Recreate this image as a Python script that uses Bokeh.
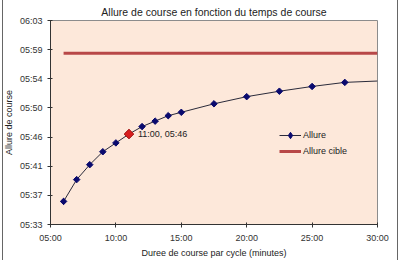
import numpy as np
from bokeh.plotting import figure
from bokeh.models import FixedTicker, Label, Legend, InlineStyleSheet
from bokeh.embed import file_html
from bokeh.resources import INLINE

# Durée de course par cycle (minutes) and allure (seconds per km)
duree = [6, 7, 8, 9, 10, 11, 12, 13, 14, 15, 17.5, 20, 22.5, 25, 27.5, 30]
allure = [336.4, 339.6, 341.8, 343.7, 345.0, 346.3, 347.4, 348.2, 349.0, 349.5,
          350.75, 351.8, 352.6, 353.3, 353.9, 354.1]
marker_count = 15  # points shown with markers (the last point only carries the line)

cible_x = [6, 30]
cible_y = [358.2, 358.2]

point_x = [11]
point_y = [346.3]
point_label = "11:00, 05:46"

x_ticks = [5, 10, 15, 20, 25, 30]
x_labels = ["05:00", "10:00", "15:00", "20:00", "25:00", "30:00"]
y_min, y_max = 333, 363
y_labels = ["05:33", "05:37", "05:41", "05:46", "05:50", "05:54", "05:59", "06:03"]
y_ticks = [y_min + k * (y_max - y_min) / 7 for k in range(8)]

FONT = "Liberation Sans"

border_css = InlineStyleSheet(css="""
:host::after { content: ""; position: absolute; left: 2px; right: 2px; top: -2px; bottom: -2px;
  border-left: 1px solid #666; border-right: 1px solid #666; pointer-events: none; }
""")

p = figure(width=400, height=260, output_backend="svg", toolbar_location=None,
           x_range=(5, 30), y_range=(y_min, y_max),
           min_border_left=45, min_border_right=23, min_border_top=19, min_border_bottom=32,
           stylesheets=[border_css])

p.title.text = "Allure de course en fonction du temps de course"
p.title.align = "center"
p.title.offset = -11
p.title.text_font = FONT
p.title.text_font_size = "10.5px"
p.title.text_font_style = "normal"
p.title.text_color = "#222222"
p.title.standoff = 6

p.background_fill_color = "#FDE8DA"
p.border_fill_color = "white"
p.outline_line_color = "#8c8c8c"
p.xgrid.visible = False
p.ygrid.visible = False

for ax in (p.xaxis[0], p.yaxis[0]):
    ax.axis_line_color = "#333333"
    ax.major_tick_line_color = "#333333"
    ax.minor_tick_line_color = None
    ax.major_tick_in = 2
    ax.major_tick_out = 3
    ax.major_label_text_font = FONT
    ax.major_label_text_font_size = "9px"
    ax.major_label_text_color = "#333333"
    ax.axis_label_text_font = FONT
    ax.axis_label_text_font_size = "9px"
    ax.axis_label_text_font_style = "normal"
    ax.axis_label_text_color = "#222222"

p.xaxis.ticker = FixedTicker(ticks=x_ticks)
p.xaxis.major_label_overrides = dict(zip(x_ticks, x_labels))
p.yaxis.ticker = FixedTicker(ticks=y_ticks)
p.yaxis.major_label_overrides = dict(zip(y_ticks, y_labels))
p.xaxis.axis_label = "Duree de course par cycle (minutes)"
p.yaxis.axis_label = "Allure de course"
p.xaxis.major_label_standoff = 5
p.xaxis.axis_label_standoff = 2
p.yaxis.major_label_standoff = 5
p.yaxis.axis_label_standoff = 3

r_line = p.line(duree, allure, line_color="#2a2a3a", line_width=1)
# diamond used for the legend symbol; hidden beneath the first marker in the plot
r_legend_mark = p.scatter(duree[:1], allure[:1], marker="diamond", size=6,
                          fill_color="#0a0a6e", line_color="#0a0a6e")
p.scatter(duree[:marker_count], allure[:marker_count], marker="square",
          angle=np.pi / 4, size=4.6, fill_color="#0a0a6e", line_color="#0a0a6e")
r_cible = p.line(cible_x, cible_y, line_color="#B84848", line_width=3)
p.scatter(point_x, point_y, marker="square", angle=np.pi / 4, size=6.8,
          fill_color="#D81E1E", line_color="#A01010")

p.add_layout(Label(x=point_x[0], y=point_y[0], text=point_label, x_offset=9,
                   text_baseline="middle", text_font=FONT, text_font_size="9px",
                   text_color="#222222"))

legend = Legend(items=[("Allure", [r_line, r_legend_mark]), ("Allure cible", [r_cible])],
                location=(229, 65), background_fill_alpha=0, border_line_color=None,
                padding=0, margin=0, spacing=0, glyph_width=22, glyph_height=16,
                label_standoff=2, label_text_font=FONT, label_text_font_size="9px",
                label_text_color="#222222")
p.add_layout(legend)

open("out.html", "w").write(file_html(p, INLINE))
